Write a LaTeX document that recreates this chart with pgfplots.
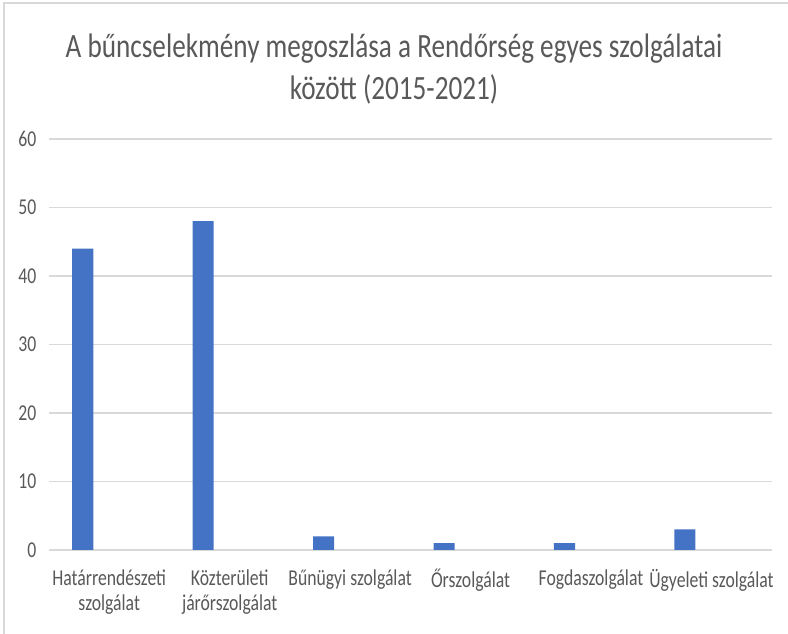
\documentclass[border=0pt]{standalone}
\usepackage{pgfplots}
\pgfplotsset{compat=1.18}
\usepackage{fontspec}
\setmainfont{Carlito}[FakeStretch=0.78]
\newfontfamily\titlefont{Carlito}[FakeStretch=0.80]
\definecolor{barblue}{HTML}{4472C4}
\definecolor{gridgray}{HTML}{D9D9D9}
\definecolor{txtgray}{HTML}{595959}
\definecolor{framegray}{HTML}{D9D9D9}
\begin{document}
\begin{tikzpicture}
\useasboundingbox (-36.75pt,-63pt) rectangle (554.25pt,412.5pt);
\draw[framegray, line width=0.9pt] (-33.75pt,-63pt) -- (-33.75pt,410.25pt) -- (554.25pt,410.25pt);
\begin{axis}[
  at={(0pt,0pt)}, anchor=south west,
  scale only axis,
  width=542pt, height=308.25pt,
  xmin=-0.5, xmax=5.5,
  ymin=0, ymax=60,
  ytick={0,10,...,60},
  xtick={0,1,2,3,4,5},
  xticklabels={{Határrendészeti\\szolgálat},{Közterületi\\járőrszolgálat},{Bűnügyi szolgálat},{Őrszolgálat},{Fogdaszolgálat},{Ügyeleti szolgálat}},
  xticklabel style={align=center, font=\fontsize{17}{19}\selectfont, text=txtgray, yshift=-11pt},
  yticklabel style={font=\fontsize{17}{18}\selectfont, text=txtgray, xshift=-6pt},
  /pgf/number format/assume math mode=true,
  ymajorgrids, major grid style={gridgray, line width=0.9pt},
  axis x line*=bottom, axis y line*=left,
  x axis line style={draw=gridgray, line width=0.9pt, -},
  y axis line style={draw=none},
  major tick length=0pt,
  ytick style={draw=none}, xtick style={draw=none},
  clip=false,
]
\addplot[ybar, fill=barblue, draw=none, bar width=0.175, bar shift=-0.22] coordinates {
  (0,44) (1,48) (2,2) (3,1) (4,1) (5,3)
};
\end{axis}
\node[text=txtgray, align=center, font=\titlefont\fontsize{25.5}{31.5}\selectfont] at (258.75pt,360.75pt) {A bűncselekmény megoszlása a Rendőrség egyes szolgálatai\\között (2015-2021)};
\end{tikzpicture}
\end{document}
